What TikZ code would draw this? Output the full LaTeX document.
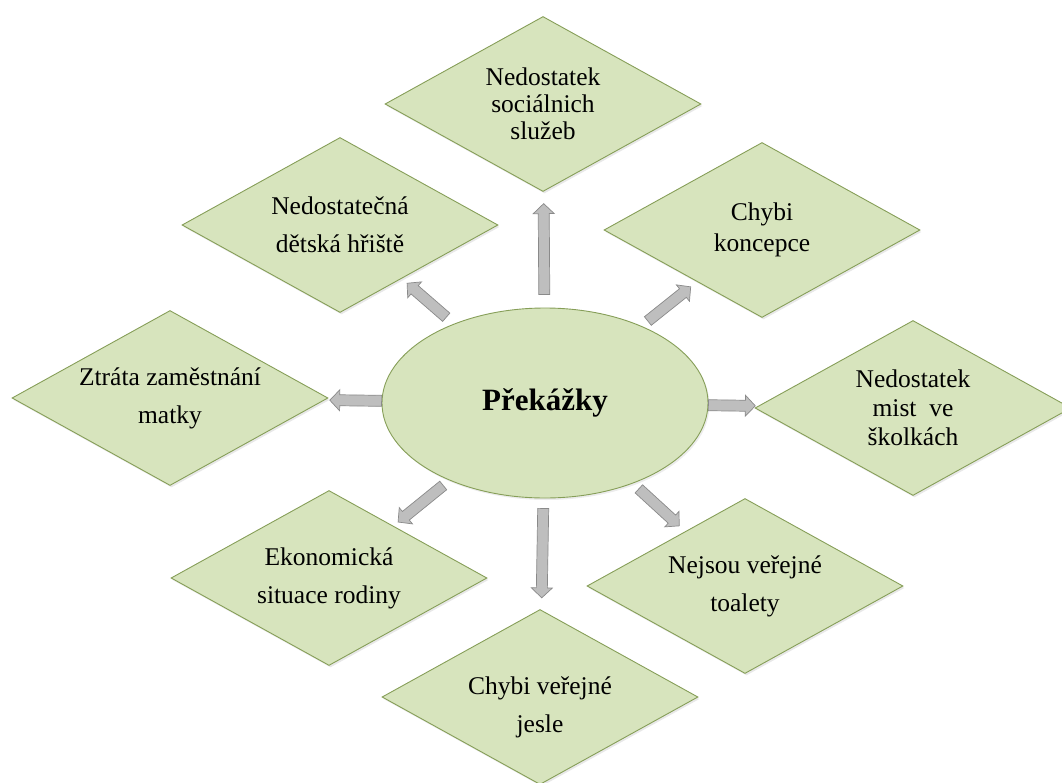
\documentclass[tikz,border=0pt]{standalone}
\usepackage{fontspec}
\setmainfont{Liberation Serif}
\usetikzlibrary{shapes.geometric,calc,shadows}
\definecolor{dfill}{HTML}{D7E4BD}
\definecolor{dedge}{HTML}{869E58}
\definecolor{afill}{HTML}{BEBEBE}
\definecolor{aedge}{HTML}{8A8A8A}
\tikzset{
  box/.style={diamond, draw=dedge, fill=dfill, line width=0.9pt,
    minimum width=316pt, minimum height=175pt, inner sep=0pt, aspect=1.8,
    align=center, text=black, font=\fontsize{25.5}{38}\selectfont,
    drop shadow={opacity=0.18, shadow xshift=1.5pt, shadow yshift=-2pt}},
  boxtext/.style={align=center, text=black, font=\fontsize{25.5}{38}\selectfont},
  hub/.style={ellipse, draw=dedge, fill=dfill, line width=0.9pt,
    minimum width=326pt, minimum height=190pt, inner sep=0pt,
    text=black, font=\fontsize{31}{36}\selectfont\bfseries,
    drop shadow={opacity=0.15, shadow xshift=1.5pt, shadow yshift=-2pt}},
  blockarrow/.style={fill=afill, draw=aedge, line width=0.7pt, line join=miter}
}
% #1 from node, #2 to node, #3 gap at start, #4 gap at end
\newcommand\blockarr[4]{%
  \path (#1) -- (#2) coordinate[pos=0] (ba) coordinate[pos=1] (bb);
  \coordinate (bA) at ($(ba)!#3!(bb)$);
  \coordinate (bB) at ($(bb)!#4!(ba)$);
  \coordinate (bC) at ($(bB)!10pt!(bA)$);
  \draw[blockarrow] ($(bA)!5.5pt!90:(bB)$) -- ($(bC)!5.5pt!90:(bB)$)
    -- ($(bC)!10.5pt!90:(bB)$) -- (bB) -- ($(bC)!10.5pt!-90:(bB)$)
    -- ($(bC)!5.5pt!-90:(bB)$) -- ($(bA)!5.5pt!-90:(bB)$) -- cycle;
}
\begin{document}
\begin{tikzpicture}[x=1pt,y=-1pt]
\useasboundingbox (0,0) rectangle (1062,782);
\node[hub] (P) at (545,403) {Překážky};
\node[box, font=\fontsize{25.5}{27}\selectfont] (d1) at (543,104) {Nedostatek\\sociálnich\\služeb};
\node[box, font=\fontsize{25.5}{31}\selectfont] (d2) at (762,230) {Chybi\\koncepce};
\node[box, font=\fontsize{25.5}{29}\selectfont] (d3) at (913,408) {Nedostatek\\mist\ \ ve\\školkách};
\node[box] (d4) at (745,586) {Nejsou veřejné\\toalety};
\node[box] (d5) at (540,697) {};
\node[boxtext] (t5) at (540,707) {Chybi veřejné\\jesle};
\node[box] (d6) at (329,578) {Ekonomická\\situace rodiny};
\node[box] (d7) at (170,398) {Ztráta zaměstnání\\matky};
\node[box] (d8) at (340,225) {Nedostatečná\\dětská hřiště};
\blockarr{P}{d1}{13pt}{12pt}
\blockarr{P}{d2}{8pt}{8pt}
\blockarr{P}{d3}{0pt}{3pt}
\blockarr{P}{d4}{8pt}{8pt}
\blockarr{P}{d5}{10pt}{12pt}
\blockarr{P}{d6}{8pt}{6pt}
\blockarr{P}{d7}{0pt}{5pt}
\blockarr{P}{d8}{10pt}{7pt}
\end{tikzpicture}
\end{document}
